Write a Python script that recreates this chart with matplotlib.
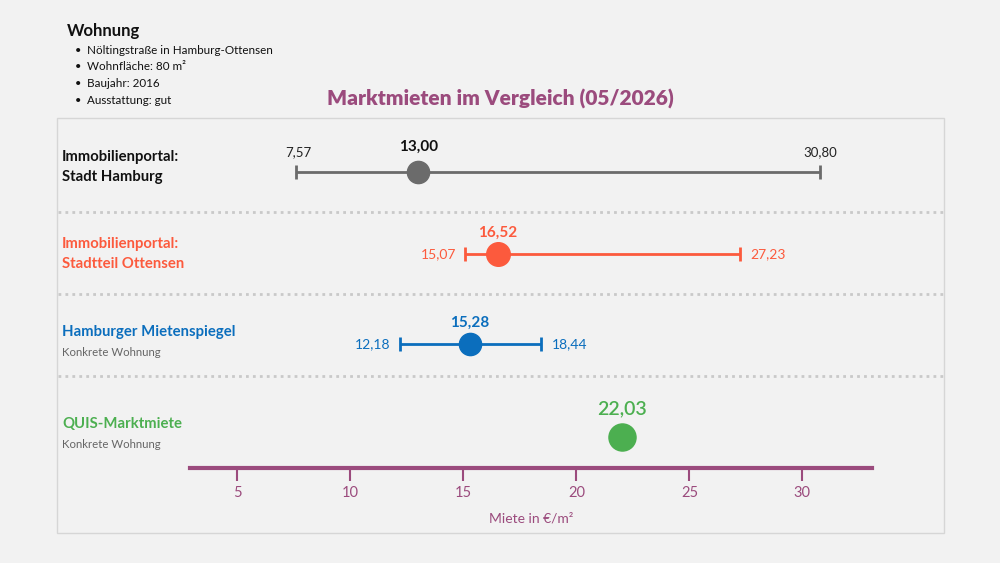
import matplotlib.pyplot as plt
from matplotlib.patches import Rectangle
from matplotlib.lines import Line2D

plt.rcParams['font.family'] = ['Lato', 'DejaVu Sans']

#----------------------------------------------------------------------------------------------------
# data
#----------------------------------------------------------------------------------------------------
titel = 'Marktmieten im Vergleich (05/2026)'
wohnung = ['Nöltingstraße in Hamburg-Ottensen', 'Wohnfläche: 80 m²', 'Baujahr: 2016', 'Ausstattung: gut']
labels = ['Immobilienportal:\nStadt Hamburg', 'Immobilienportal:\nStadtteil Ottensen',
          'Hamburger Mietenspiegel', 'QUIS-Marktmiete']
sublabels = ['', '', 'Konkrete Wohnung', 'Konkrete Wohnung']
werte = [13.00, 16.52, 15.28, 22.03]
minima = [7.57, 15.07, 12.18, None]
maxima = [30.80, 27.23, 18.44, None]
farben = ['#6b6b6b', '#fc5a3d', '#0b6ebd', '#4caf50']
ticks = [5, 10, 15, 20, 25, 30]

lila = '#9b4b7d'
bg = '#f2f2f2'

#----------------------------------------------------------------------------------------------------
# figure
#----------------------------------------------------------------------------------------------------
fig = plt.figure(figsize=(10, 5.63), dpi=100, facecolor=bg)

def fx(px):
    return px / 1000

def fy(py):
    return 1 - py / 563

# panel box
fig.patches.append(Rectangle((fx(57), fy(533)), fx(944) - fx(57), fy(118) - fy(533),
                             transform=fig.transFigure, facecolor='none', edgecolor='#d6d6d6', lw=1, zorder=-1))

# dotted separators
for py in [212, 294, 376]:
    fig.lines.append(Line2D([fx(58), fx(943)], [fy(py), fy(py)], transform=fig.transFigure,
                            color='#c9c9c9', lw=2, linestyle=(0, (1, 1.5)), zorder=-1))

# header
fig.text(fx(67), fy(31), 'Wohnung', fontsize=12, fontweight='bold', color='#111111', va='center')
for i, t in enumerate(wohnung):
    y = fy(50 + i * 16.7)
    fig.text(fx(75), y, '•', fontsize=8, color='#111111', va='center')
    fig.text(fx(87), y, t, fontsize=8.35, color='#111111', va='center')

fig.text(0.5, fy(99), titel, fontsize=15, fontweight=800, color=lila, ha='center', va='center')

# main axes: bottom spine = x axis line
ax = fig.add_axes([fx(190), fy(468), fx(872) - fx(190), fy(118) - fy(468)])
ax.set_facecolor('none')
ax.set_xlim(2.90, 33.08)
ax.set_ylim(468, 118)
for s in ['top', 'left', 'right']:
    ax.spines[s].set_visible(False)
ax.spines['bottom'].set_color(lila)
ax.spines['bottom'].set_linewidth(3)
ax.set_yticks([])
ax.set_xticks(ticks)
ax.tick_params(axis='x', direction='out', length=9, width=1.5, color=lila,
               labelcolor=lila, labelsize=10.5, pad=4)
ax.set_xlabel('Miete in €/m²', color=lila, fontsize=10, labelpad=9)

row_y = [172, 254, 344, 437]
label_y = [167, 254, 332, 424]
msize = [16, 17, 16, 19.5]
val_off = [18.5, 15, 15.5, 20.5]

for i in range(4):
    c = farben[i]
    y = row_y[i]
    if minima[i] is not None:
        ax.errorbar(werte[i], y, xerr=[[werte[i] - minima[i]], [maxima[i] - werte[i]]],
                    fmt='none', ecolor=c, elinewidth=2, capsize=5, capthick=2, clip_on=False)
    ax.plot(werte[i], y, 'o', color=c, markersize=msize[i], zorder=5, clip_on=False)
    # value label
    if i < 3:
        ax.annotate(f'{werte[i]:.2f}'.replace('.', ','), (werte[i], y), xytext=(0, val_off[i]),
                    textcoords='offset points', ha='center', va='center',
                    fontsize=11, fontweight='bold', color='#111111' if i == 0 else c)
    else:
        ax.annotate(f'{werte[i]:.2f}'.replace('.', ','), (werte[i], y), xytext=(0, val_off[i]),
                    textcoords='offset points', ha='center', va='center',
                    fontsize=14, fontweight='semibold', color=c)
    # min / max labels
    if minima[i] is not None:
        lo = f'{minima[i]:.2f}'.replace('.', ',')
        hi = f'{maxima[i]:.2f}'.replace('.', ',')
        tc = '#222222' if i == 0 else c
        if i == 0:
            ax.annotate(lo, (minima[i], y), xytext=(2, 14), textcoords='offset points',
                        ha='center', va='center', fontsize=9.5, color=tc)
            ax.annotate(hi, (maxima[i], y), xytext=(0, 14), textcoords='offset points',
                        ha='center', va='center', fontsize=9.5, color=tc)
        else:
            ax.annotate(lo, (minima[i], y), xytext=(-6.5, 0), textcoords='offset points',
                        ha='right', va='center', fontsize=10, color=tc)
            ax.annotate(hi, (maxima[i], y), xytext=(7.5, 0), textcoords='offset points',
                        ha='left', va='center', fontsize=10, color=tc)
    # row labels
    lc = '#111111' if i == 0 else c
    fig.text(fx(62), fy(label_y[i]), labels[i], fontsize=10.75, fontweight='bold', color=lc,
             va='center', linespacing=1.55)
    if sublabels[i]:
        fig.text(fx(62), fy(label_y[i] + 21), sublabels[i], fontsize=8.2, color='#666666', va='center')

plt.savefig('out.png', dpi=100, facecolor=bg)
